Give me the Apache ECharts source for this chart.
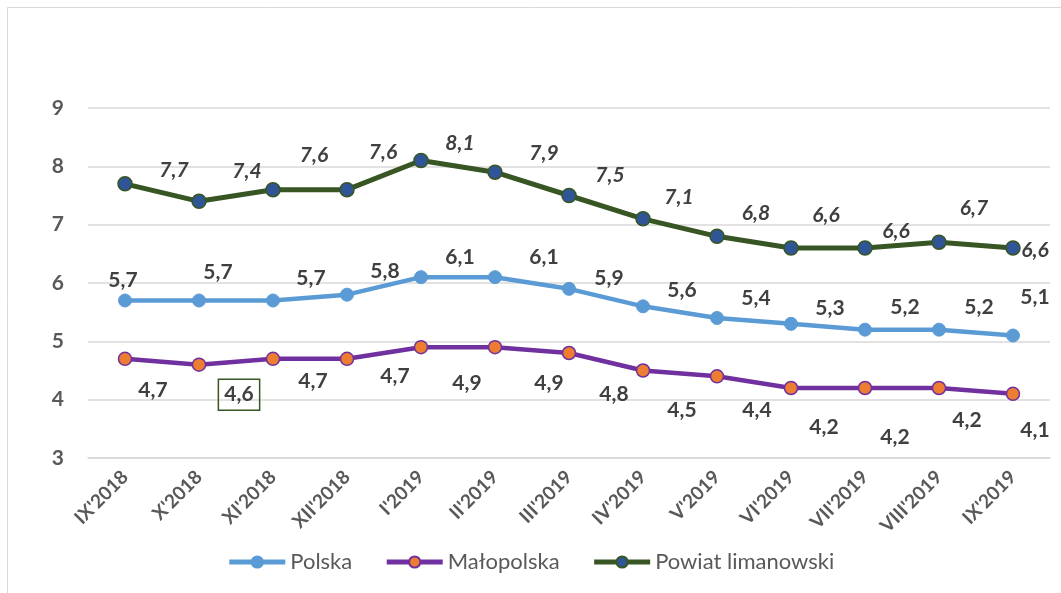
<!DOCTYPE html>
<html>
<head>
<meta charset="utf-8">
<script src="https://cdn.jsdelivr.net/npm/echarts@6/dist/echarts.min.js"></script>
<style>
  html, body { margin: 0; padding: 0; background: #fff; }
  #chart { width: 1061px; height: 593px; }
</style>
</head>
<body>
<div id="chart"></div>
<script>
var months = ["IX'2018", "X'2018", "XI'2018", "XII'2018", "I'2019", "II'2019", "III'2019",
    "IV'2019", "V'2019", "VI'2019", "VII'2019", "VIII'2019", "IX'2019"];
var polska = [5.7, 5.7, 5.7, 5.8, 6.1, 6.1, 5.9, 5.6, 5.4, 5.3, 5.2, 5.2, 5.1];
var malopolska = [4.7, 4.6, 4.7, 4.7, 4.9, 4.9, 4.8, 4.5, 4.4, 4.2, 4.2, 4.2, 4.1];
var powiat = [7.7, 7.4, 7.6, 7.6, 8.1, 7.9, 7.5, 7.1, 6.8, 6.6, 6.6, 6.7, 6.6];
var yTicks = [3, 4, 5, 6, 7, 8, 9];

// label shifts as they sit in the original (Excel put them loosely)
var polskaShift = [[-2, -20], [19, -28], [38, -22], [38, -23], [39, -20], [49, -20], [40, -11],
    [39, -16], [39, -20], [39, -16], [40, -22], [40, -22], [22, -38]];
var malopolskaShift = [[28, 31], [40, 30], [40, 22], [48, 17], [46, 36], [54, 36], [45, 41],
    [39, 40], [40, 34], [33, 39], [30, 49], [28, 32], [22, 36]];
var powiatShift = [[49, -14], [48, -30], [41, -34], [36, -37], [39, -17], [49, -19], [41, -20],
    [36, -22], [39, -23], [35, -33], [31, -17], [35, -34], [22, 2]];

var font = "Lato, 'Open Sans', sans-serif";

function fmt(p) {
    return String(p.value).replace(".", ",");
}

function withShift(values, shifts, boxed) {
    return values.map(function (v, i) {
        var lbl = { offset: shifts[i] };
        if (boxed === i) {
            lbl.borderColor = "#375623";
            lbl.borderWidth = 1.5;
            lbl.padding = [6, 6, 4, 6];
        }
        return { value: v, label: lbl };
    });
}

var dom = document.getElementById("chart");
var myChart = echarts.init(dom);

var labelBase = {
    show: true,
    position: "inside",
    formatter: fmt,
    color: "#404040",
    fontSize: 21,
    fontWeight: "bold",
    fontFamily: font
};

var option = {
    animation: false,
    graphic: [{
        type: "rect",
        shape: { x: 7.5, y: 7.5, width: 1060, height: 600 },
        style: { fill: "none", stroke: "#d9d9d9", lineWidth: 1 }
    }],
    grid: { left: 88, right: 11, top: 108, bottom: 135 },
    legend: {
        bottom: 15,
        left: "center",
        itemWidth: 56,
        itemHeight: 14,
        itemGap: 32,
        lineStyle: { width: 5 },
        textStyle: { color: "#595959", fontSize: 22, fontFamily: font }
    },
    xAxis: {
        type: "category",
        data: months,
        boundaryGap: true,
        axisLine: { show: true, lineStyle: { color: "#d9d9d9", width: 1.5 } },
        axisTick: { show: false },
        axisLabel: {
            rotate: 45,
            interval: 0,
            margin: 16,
            color: "#595959",
            fontSize: 19,
            fontWeight: "bold",
            fontFamily: font
        }
    },
    yAxis: {
        type: "value",
        min: yTicks[0],
        max: yTicks[yTicks.length - 1],
        interval: 1,
        axisLine: { show: false },
        axisTick: { show: false },
        splitLine: { lineStyle: { color: "#d9d9d9", width: 1.5 } },
        axisLabel: {
            margin: 24,
            color: "#595959",
            fontSize: 21,
            fontWeight: "bold",
            fontFamily: font
        }
    },
    series: [{
        name: "Polska",
        type: "line",
        data: withShift(polska, polskaShift),
        symbol: "circle",
        symbolSize: 13,
        lineStyle: { color: "#5B9BD5", width: 4.5 },
        itemStyle: { color: "#5B9BD5", borderColor: "#5B9BD5", borderWidth: 1 },
        label: labelBase
    }, {
        name: "Małopolska",
        type: "line",
        data: withShift(malopolska, malopolskaShift, 1),
        symbol: "circle",
        symbolSize: 13,
        lineStyle: { color: "#7030A0", width: 4.5 },
        itemStyle: { color: "#ED7D31", borderColor: "#7030A0", borderWidth: 1.5 },
        label: labelBase
    }, {
        name: "Powiat limanowski",
        type: "line",
        data: withShift(powiat, powiatShift),
        symbol: "circle",
        symbolSize: 14,
        lineStyle: { color: "#375623", width: 5 },
        itemStyle: { color: "#2F5597", borderColor: "#375623", borderWidth: 1.5 },
        label: Object.assign({}, labelBase, { fontStyle: "italic" })
    }]
};

option && "object" == typeof option && myChart.setOption(option, true);
</script>
</body>
</html>
